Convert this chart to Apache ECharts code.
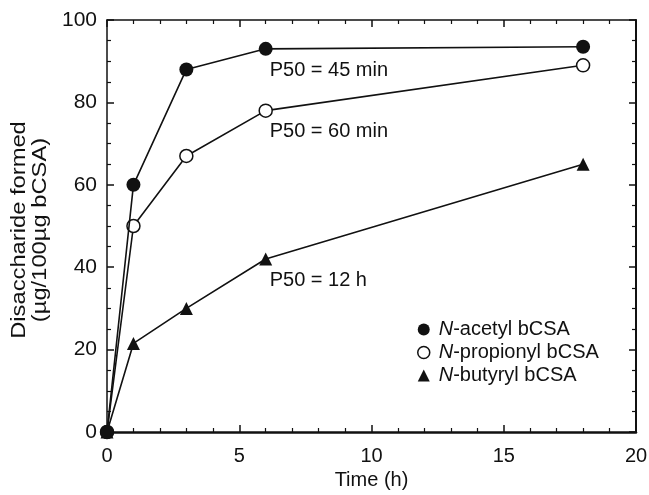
<!DOCTYPE html>
<html>
<head>
<meta charset="utf-8">
<script src="https://cdn.jsdelivr.net/npm/echarts@6/dist/echarts.min.js"></script>
<style>
  html, body { margin: 0; padding: 0; background: #fff; }
  #chart { width: 649px; height: 495px; }
</style>
</head>
<body>
<div id="chart"></div>
<script>
var times = [0, 1, 3, 6, 18];
var acetyl = [0, 60, 88, 93, 93.5];
var propionyl = [0, 50, 67, 78, 89];
var butyryl = [0, 21.5, 30, 42, 65];
var seriesNames = ['N-acetyl bCSA', 'N-propionyl bCSA', 'N-butyryl bCSA'];
// annotation text and where it sits (data units: time, value)
var notes = ['P50 = 45 min', 'P50 = 60 min', 'P50 = 12 h'];
var noteAt = [[6.15, 88.1], [6.15, 73.3], [6.15, 36.9]];
var yTitle = 'Disaccharide formed\n(µg/100µg bCSA)';

var font = 'Liberation Sans, Arial, Helvetica, sans-serif';
var ink = '#111';

function pairs(vals) {
    return times.map(function (t, i) { return [t, vals[i]]; });
}

var myChart = echarts.init(document.getElementById('chart'));

var tickStyle = { show: true, inside: true, length: 7, lineStyle: { color: ink, width: 1.5 } };
var minorStyle = { show: true, splitNumber: 5, length: 4, lineStyle: { color: ink, width: 1.2 } };

option = {
    animation: false,
    backgroundColor: '#fff',
    textStyle: { fontFamily: font, color: ink },
    grid: { left: 107, right: 13, top: 20, bottom: 63, containLabel: false, outerBoundsMode: 'none' },
    legend: {
        orient: 'vertical',
        left: 417,
        top: 319,
        padding: 0,
        itemWidth: 12,
        itemHeight: 12,
        itemGap: 2,
        data: [
            { name: seriesNames[0], icon: 'circle', itemStyle: { color: ink, borderWidth: 0 } },
            { name: seriesNames[1], icon: 'circle', itemStyle: { color: '#fff', borderColor: ink, borderWidth: 1.5 } },
            { name: seriesNames[2], icon: 'triangle', itemStyle: { color: ink, borderWidth: 0 } }
        ],
        formatter: function (name) { return '{i|N}{t|' + name.slice(1) + '}'; },
        textStyle: {
            fontFamily: font, color: ink, fontSize: 20, lineHeight: 21, padding: [0, 0, 0, 4],
            rich: {
                i: { fontStyle: 'italic', fontSize: 20, lineHeight: 21, fontFamily: font, color: ink },
                t: { fontSize: 20, lineHeight: 21, fontFamily: font, color: ink }
            }
        }
    },
    xAxis: [
        {
            type: 'value', min: 0, max: 20, interval: 5,
            name: 'Time (h)', nameLocation: 'middle', nameGap: 33,
            nameTextStyle: { fontSize: 20, color: ink, fontFamily: font },
            axisLine: { show: true, onZero: false, lineStyle: { color: ink, width: 2.5 } },
            axisTick: tickStyle,
            minorTick: minorStyle,
            axisLabel: { fontSize: 20, color: ink, margin: 14, fontFamily: font },
            splitLine: { show: false }
        },
        {
            type: 'value', min: 0, max: 20, interval: 5, position: 'top',
            axisLine: { show: true, onZero: false, lineStyle: { color: ink, width: 1.5 } },
            axisTick: tickStyle,
            minorTick: minorStyle,
            axisLabel: { show: false },
            splitLine: { show: false }
        }
    ],
    yAxis: [
        {
            type: 'value', min: 0, max: 100, interval: 20,
            axisLine: { show: true, onZero: false, lineStyle: { color: ink, width: 1.5 } },
            axisTick: tickStyle,
            minorTick: { show: true, splitNumber: 4, length: 4, lineStyle: { color: ink, width: 1.2 } },
            axisLabel: { fontSize: 21, color: ink, margin: 10, fontFamily: font },
            splitLine: { show: false }
        },
        {
            type: 'value', min: 0, max: 100, interval: 20, position: 'right',
            axisLine: { show: true, onZero: false, lineStyle: { color: ink, width: 2 } },
            axisTick: tickStyle,
            minorTick: { show: true, splitNumber: 4, length: 4, lineStyle: { color: ink, width: 1.2 } },
            axisLabel: { show: false },
            splitLine: { show: false }
        }
    ],
    series: [
        {
            name: seriesNames[2], type: 'line', data: pairs(butyryl), z: 3,
            symbol: 'triangle', symbolSize: 13, showAllSymbol: true,
            lineStyle: { color: ink, width: 1.6 },
            itemStyle: { color: ink, borderWidth: 0 }
        },
        {
            name: seriesNames[1], type: 'line', data: pairs(propionyl), z: 4,
            symbol: 'circle', symbolSize: 13, showAllSymbol: true,
            lineStyle: { color: ink, width: 1.6 },
            itemStyle: { color: '#fff', borderColor: ink, borderWidth: 1.5 }
        },
        {
            name: seriesNames[0], type: 'line', data: pairs(acetyl), z: 5,
            symbol: 'circle', symbolSize: 14, showAllSymbol: true,
            lineStyle: { color: ink, width: 1.6 },
            itemStyle: { color: ink, borderWidth: 0 }
        }
    ]
};
myChart.setOption(option);

// P50 notes placed through the axes, plus the stretched y-axis title
var graphics = notes.map(function (txt, i) {
    var p = myChart.convertToPixel({ gridIndex: 0 }, noteAt[i]);
    return {
        type: 'text', left: p[0], top: p[1] - 9, silent: true,
        style: { text: txt, fontSize: 20, fontFamily: font, fill: ink }
    };
});
var mid = myChart.convertToPixel({ yAxisIndex: 0 }, 50);
graphics.push({
    type: 'text', x: 30, y: mid + 4, rotation: Math.PI / 2, scaleX: 1.13, silent: true,
    style: { text: yTitle, fontSize: 21, lineHeight: 21, fontFamily: font, fill: ink, align: 'center', verticalAlign: 'middle' }
});
myChart.setOption({ graphic: graphics });
</script>
</body>
</html>
